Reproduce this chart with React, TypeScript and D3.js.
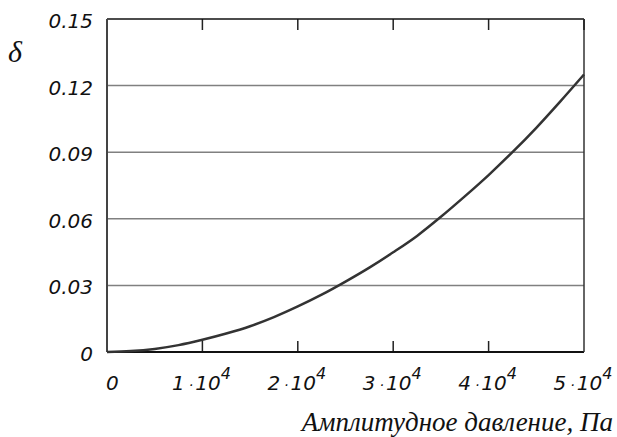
import React from "react";
import * as d3 from "d3";

const pressure = [0, 2500, 5000, 7500, 10000, 12500, 15000, 17500, 20000, 22500, 25000, 27500, 30000, 32500, 35000, 37500, 40000, 42500, 45000, 47500, 50000];
const delta = [0, 0.0004, 0.0014, 0.0031, 0.0055, 0.0083, 0.0116, 0.0157, 0.0205, 0.0258, 0.0317, 0.038, 0.0449, 0.0523, 0.0609, 0.0701, 0.0797, 0.09, 0.101, 0.1128, 0.125];
const yTicks = [0, 0.03, 0.06, 0.09, 0.12, 0.15];
const yTickLabels = ["0", "0.03", "0.06", "0.09", "0.12", "0.15"];
const xTicks = [0, 10000, 20000, 30000, 40000, 50000];
const xTickMantissa = ["0", "1", "2", "3", "4", "5"];
const xTitle = "Амплитудное давление, Па";
const yTitle = "δ";

export default function App() {
  const W = 617, H = 437;
  const left = 107, right = 584, top = 19, bottom = 352;
  const x = d3.scaleLinear().domain([0, 50000]).range([left, right]);
  const y = d3.scaleLinear().domain([0, 0.15]).range([bottom, top]);
  const line = d3.line<number>().x((_, i) => x(pressure[i])).y((d) => y(d)).curve(d3.curveMonotoneX);
  const tickFont = "'DejaVu Sans', Verdana, sans-serif";
  return (
    <svg width={W} height={H} style={{ position: "absolute", left: 0, top: 0, background: "#fff" }}>
      {yTicks.slice(1, -1).map((t) => (
        <line key={t} x1={left} x2={right} y1={y(t)} y2={y(t)} stroke="#808080" strokeWidth={1.5} />
      ))}
      {xTicks.slice(1, -1).map((t) => (
        <g key={t}>
          <line x1={x(t)} x2={x(t)} y1={top} y2={top + 11} stroke="#222" strokeWidth={1.5} />
          <line x1={x(t)} x2={x(t)} y1={bottom} y2={bottom - 11} stroke="#222" strokeWidth={1.5} />
        </g>
      ))}
      <line x1={left} x2={left} y1={bottom - 11} y2={bottom} stroke="#222" strokeWidth={2} />
      <line x1={right} x2={right} y1={top} y2={top + 11} stroke="#222" strokeWidth={2} />
      <line x1={left} x2={right} y1={top} y2={top} stroke="#111" strokeWidth={1.5} />
      <line x1={left} x2={right} y1={bottom} y2={bottom} stroke="#111" strokeWidth={2} />
      <line x1={left} x2={left} y1={top} y2={bottom} stroke="#444" strokeWidth={2} />
      <line x1={right} x2={right} y1={top} y2={bottom} stroke="#333" strokeWidth={1.5} />
      <path d={line(delta) || ""} fill="none" stroke="#333" strokeWidth={2.5} />
      {yTicks.map((t, i) => (
        <text key={t} x={93} y={y(t) + 9} textAnchor="end" fontFamily={tickFont} fontStyle="italic" fontSize={20} fill="#111">
          {yTickLabels[i]}
        </text>
      ))}
      {xTicks.map((t, i) =>
        i === 0 ? (
          <text key={t} x={x(t) - 1} y={390} textAnchor="start" fontFamily={tickFont} fontStyle="italic" fontSize={20} fill="#111">
            0
          </text>
        ) : (
          <text key={t} x={x(t) - 1} y={390} textAnchor="middle" fontFamily={tickFont} fontStyle="italic" fontSize={20} fill="#111">
            {xTickMantissa[i]}
            <tspan dx={4} fontSize={14}>·</tspan>
            <tspan dx={2}>10</tspan>
            <tspan dy={-11} fontSize={16}>4</tspan>
          </text>
        )
      )}
      <text x={613} y={431} textAnchor="end" fontFamily="'Liberation Serif', 'Times New Roman', serif" fontStyle="italic" fontSize={27} fill="#111">
        {xTitle}
      </text>
      <text x={8} y={62} fontFamily="'Liberation Serif', 'Times New Roman', serif" fontStyle="italic" fontSize={30} fill="#111">
        {yTitle}
      </text>
    </svg>
  );
}
